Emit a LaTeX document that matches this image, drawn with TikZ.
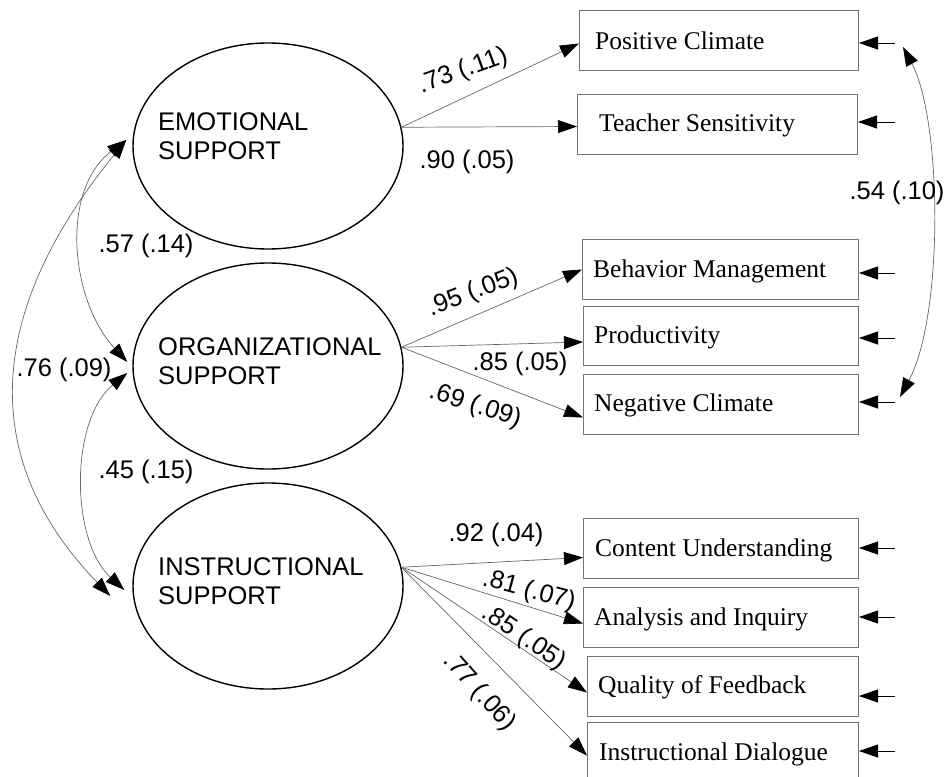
\documentclass[tikz,border=0pt]{standalone}
\usepackage{fontspec}
\setmainfont{Liberation Serif}
\newfontfamily\arialf{Liberation Sans}
\usetikzlibrary{arrows.meta,shapes.geometric,calc}
\begin{document}
\begin{tikzpicture}[x=1pt,y=-1pt,
 tip/.tip={Triangle[length=19pt,width=13pt,color=black]},
 latent/.style={draw=black, line width=1.4pt, ellipse, minimum width=270pt, minimum height=206pt, inner sep=0pt},
 ltext/.style={anchor=west, align=left, inner sep=0pt, font=\arialf\fontsize{25.5}{29}\selectfont},
 obs/.style={draw=black!55, line width=1pt, rectangle, inner sep=0pt, anchor=north west},
 otext/.style={anchor=base west, inner sep=0pt, font=\fontsize{25.5}{30}\selectfont},
 load/.style={draw=black!60, line width=0.7pt, -tip},
 res/.style={draw=black, line width=0.8pt, -tip},
 cov/.style={draw=black!60, line width=0.7pt, tip-tip},
 lab/.style={inner sep=0pt, font=\arialf\fontsize{25.5}{28}\selectfont}
]
\useasboundingbox (0,0) rectangle (946,777);

% latent variables
\node[latent] (E) at (268,146) {};
\node[latent] (O) at (268,366) {};
\node[latent] (I) at (268,586) {};
\node[ltext] (Et) at (158,136) {EMOTIONAL\\SUPPORT};
\node[ltext] (Ot) at (158,361) {ORGANIZATIONAL\\SUPPORT};
\node[ltext] (It) at (158,581) {INSTRUCTIONAL\\SUPPORT};

% observed variables
\node[obs, minimum width=279pt, minimum height=60pt] (PC) at (579,10) {};
\node[obs, minimum width=280pt, minimum height=60pt] (TS) at (577,94) {};
\node[obs, minimum width=276pt, minimum height=60pt] (BM) at (582,239) {};
\node[obs, minimum width=275pt, minimum height=59pt] (PR) at (583,306) {};
\node[obs, minimum width=275pt, minimum height=60pt] (NC) at (583,374) {};
\node[obs, minimum width=275pt, minimum height=60pt] (CU) at (583,518) {};
\node[obs, minimum width=275pt, minimum height=60pt] (AI) at (583,587) {};
\node[obs, minimum width=271pt, minimum height=60pt] (QF) at (587,656) {};
\node[obs, minimum width=271pt, minimum height=60pt] (ID) at (587,722) {};

\node[otext] (PCt) at (595,49) {Positive Climate};
\node[otext] (TSt) at (599,131) {Teacher Sensitivity};
\node[otext] (BMt) at (593,277) {Behavior Management};
\node[otext] (PRt) at (594,343) {Productivity};
\node[otext] (NCt) at (594,411) {Negative Climate};
\node[otext] (CUt) at (595,556) {Content Understanding};
\node[otext] (AIt) at (594,625) {Analysis and Inquiry};
\node[otext] (QFt) at (598,693) {Quality of Feedback};
\node[otext] (IDt) at (599,760) {Instructional Dialogue};

% loadings
\draw[load] (E.8) -- ($(PC.west)+(0,3)$);
\draw[load] (E.8) -- ($(TS.west)+(0,2)$);
\draw[load] (O.8) -- (BM.west);
\draw[load] (O.8) -- ($(PR.west)+(0,6)$);
\draw[load] (O.8) -- ($(NC.west)+(0,13)$);
\draw[load] (I.8) -- ($(CU.west)+(0,9)$);
\draw[load] (I.8) -- ($(AI.west)+(0,6)$);
\draw[load] (I.8) -- ($(QF.west)+(0,6)$);
\draw[load] (I.8) -- ($(ID.west)+(0,3)$);

% residual arrows
\coordinate (rPC) at (895,43);
\coordinate (rTS) at (895,122);
\coordinate (rBM) at (895,273);
\coordinate (rPR) at (895,338);
\coordinate (rNC) at (895,402);
\coordinate (rCU) at (895,548);
\coordinate (rAI) at (895,617);
\coordinate (rQF) at (895,696);
\coordinate (rID) at (895,751);
\draw[res] (rPC) -- (rPC -| PC.east);
\draw[res] (rTS) -- (rTS -| TS.east);
\draw[res] (rBM) -- (rBM -| BM.east);
\draw[res] (rPR) -- (rPR -| PR.east);
\draw[res] (rNC) -- (rNC -| NC.east);
\draw[res] (rCU) -- (rCU -| CU.east);
\draw[res] (rAI) -- (rAI -| AI.east);
\draw[res] (rQF) -- (rQF -| QF.east);
\draw[res] (rID) -- (rID -| ID.east);

% covariances
\draw[cov] ($(rPC)+(8,4)$) .. controls (942,120) and (944,315) .. ($(rNC)+(5,-5)$);
\draw[cov] ($(E.west)+(-6,-6)$) .. controls (60,190) and (70,300) .. ($(O.west)+(-5,-4)$);
\draw[cov] ($(O.west)+(-5,7)$) .. controls (70,420) and (70,540) .. ($(I.west)+(-8,4)$);
\draw[cov] ($(E.west)+(-6,-6)$) .. controls (20,270) and (-50,430) .. ($(I.west)+(-22,10)$);

% labels
\node[lab] (l57) at (146,246) {.57 (.14)};
\node[lab] (l76) at (64,370) {.76 (.09)};
\node[lab] (l45) at (146,472) {.45 (.15)};
\node[lab] (l54) at (897,193) {.54 (.10)};
\node[lab, rotate=20] (l73) at (463,71) {.73 (.11)};
\node[lab] (l90) at (467,162) {.90 (.05)};
\node[lab, rotate=21] (l95) at (473,293) {.95 (.05)};
\node[lab] (l85a) at (520,364) {.85 (.05)};
\node[lab, rotate=-18] (l69) at (475,406) {.69 (.09)};
\node[lab] (l92) at (496,535) {.92 (.04)};
\node[lab, rotate=-15] (l81) at (529,591) {.81 (.07)};
\node[lab, rotate=-34] (l85b) at (524,638) {.85 (.05)};
\node[lab, rotate=-48] (l77) at (479,692) {.77 (.06)};
\end{tikzpicture}
\end{document}
